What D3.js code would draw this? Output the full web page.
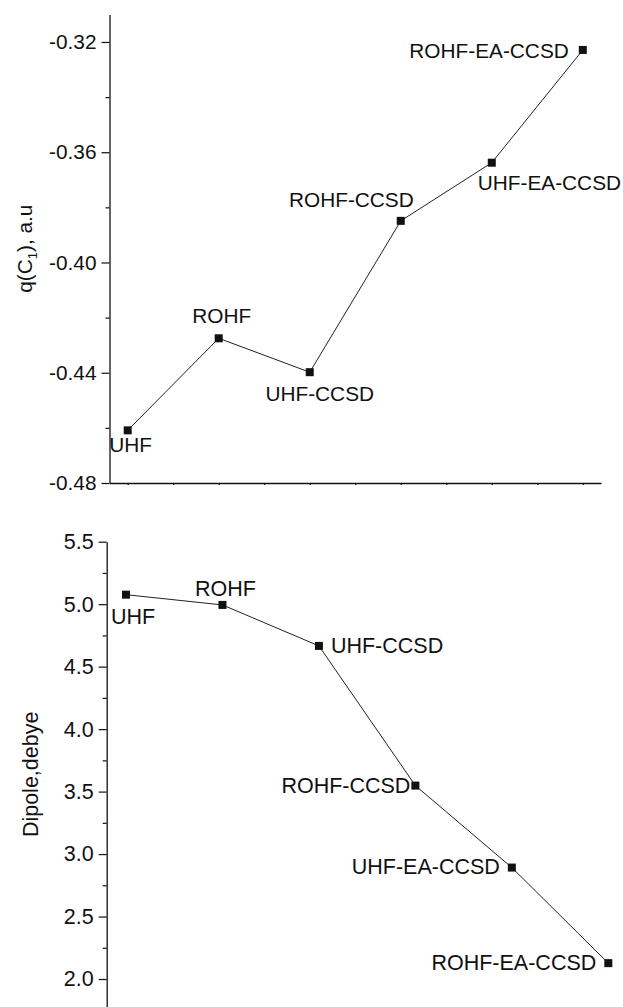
<!DOCTYPE html>
<html>
<head>
<meta charset="utf-8">
<script src="https://cdn.jsdelivr.net/npm/d3@7"></script>
<style>
  html, body { margin: 0; padding: 0; background: #fff; }
  svg { display: block; }
  text { font-family: "Liberation Sans", Arial, Helvetica, sans-serif; fill: #111; }
</style>
</head>
<body>
<svg id="chart" width="623" height="1007"></svg>
<script>
// ---- data ----
const methods = ["UHF", "ROHF", "UHF-CCSD", "ROHF-CCSD", "UHF-EA-CCSD", "ROHF-EA-CCSD"];
const methodIndex = [1, 2, 3, 4, 5, 6];
const chargeC1 = [-0.4609, -0.4275, -0.4398, -0.3849, -0.3638, -0.3229];
const dipole = [5.076, 4.994, 4.666, 3.548, 2.892, 2.127];
const chargeTicks = [-0.48, -0.44, -0.40, -0.36, -0.32];
const chargeMinorTicks = [-0.46, -0.42, -0.38, -0.34];
const dipoleTicks = [2.0, 2.5, 3.0, 3.5, 4.0, 4.5, 5.0, 5.5];
const dipoleMinorTicks = [2.25, 2.75, 3.25, 3.75, 4.25, 4.75, 5.25];
const xTicks = [1, 1.5, 2, 2.5, 3, 3.5, 4, 4.5, 5, 5.5, 6];

// ---- label placement (layout) ----
const topLabelPlace = [
  {anchor: "middle", dx: 3, dy: 22},
  {anchor: "middle", dx: 3, dy: -15},
  {anchor: "middle", dx: 10, dy: 29},
  {anchor: "end", dx: 13, dy: -14},
  {anchor: "start", dx: -14, dy: 27},
  {anchor: "end", dx: -14, dy: 8}
];
const botLabelPlace = [
  {anchor: "middle", dx: 7, dy: 29},
  {anchor: "middle", dx: 3, dy: -9},
  {anchor: "start", dx: 12, dy: 7},
  {anchor: "end", dx: -5, dy: 7},
  {anchor: "end", dx: -12, dy: 6},
  {anchor: "end", dx: -12, dy: 7}
];

const svg = d3.select("#chart");
const fmt2 = v => d3.format(".2f")(v).replace("\u2212", "-");
const fmt1 = v => d3.format(".1f")(v).replace("\u2212", "-");
const markSize = 8;

function styleAxis(g, fs) {
  g.selectAll("path.domain").attr("stroke", "#111").attr("stroke-width", 1.3);
  g.selectAll(".tick line").attr("stroke", "#111").attr("stroke-width", 1.2);
  g.selectAll(".tick text")
    .attr("font-size", fs)
    .attr("font-family", "'Liberation Sans', Arial, sans-serif")
    .attr("fill", "#111");
}

function panel(opts) {
  const {x, y, values, yTicks, yMinor, yFormat, place, xAxis, title, titlePos, fs} = opts;
  const g = svg.append("g");
  const ax = x.range()[0];

  const gMinor = g.append("g").attr("transform", `translate(${ax},0)`)
    .call(d3.axisLeft(y).tickValues(yMinor).tickSize(4).tickSizeOuter(0).tickFormat(""));
  gMinor.select("path.domain").remove();
  styleAxis(gMinor, fs);

  const gy = g.append("g").attr("transform", `translate(${ax},0)`)
    .call(d3.axisLeft(y).tickValues(yTicks).tickSize(8).tickSizeOuter(0).tickPadding(5).tickFormat(yFormat));
  styleAxis(gy, fs);

  if (xAxis) {
    const gx = g.append("g").attr("transform", `translate(0,${y.range()[0]})`)
      .call(d3.axisBottom(x).tickValues(xTicks).tickSize(2).tickSizeOuter(0).tickFormat(""));
    styleAxis(gx, fs);
  }

  const pts = methodIndex.map((d, i) => ({xv: d, yv: values[i], name: methods[i], p: place[i]}));

  g.append("path")
    .datum(pts)
    .attr("fill", "none")
    .attr("stroke", "#222")
    .attr("stroke-width", 1)
    .attr("d", d3.line().x(d => x(d.xv)).y(d => y(d.yv)));

  g.selectAll("rect.mark").data(pts).enter().append("rect")
    .attr("class", "mark")
    .attr("x", d => x(d.xv) - markSize / 2)
    .attr("y", d => y(d.yv) - markSize / 2)
    .attr("width", markSize)
    .attr("height", markSize)
    .attr("fill", "#111");

  g.selectAll("text.lbl").data(pts).enter().append("text")
    .attr("class", "lbl")
    .attr("x", d => x(d.xv) + d.p.dx)
    .attr("y", d => y(d.yv) + d.p.dy)
    .attr("text-anchor", d => d.p.anchor)
    .attr("font-size", fs)
    .text(d => d.name);

  const t = g.append("text")
    .attr("transform", `translate(${titlePos[0]},${titlePos[1]}) rotate(-90)`)
    .attr("text-anchor", "middle")
    .attr("font-size", fs);
  title(t);
}

// ---- top panel ----
const xTop = d3.scaleLinear().domain([0.8, 6.2]).range([109.5, 601]);
const yTop = d3.scaleLinear().domain([-0.48, -0.31]).range([483, 14.4]);
panel({
  x: xTop, y: yTop, values: chargeC1, fs: 20.8,
  yTicks: chargeTicks, yMinor: chargeMinorTicks, yFormat: fmt2,
  place: topLabelPlace, xAxis: true,
  titlePos: [32, (yTop.range()[0] + yTop.range()[1]) / 2],
  title: t => {
    t.append("tspan").text("q(C");
    t.append("tspan").attr("font-size", 13).attr("dy", 5).text("1");
    t.append("tspan").attr("dy", -5).text("), a.u");
  }
});

// ---- bottom panel ----
const xBot = d3.scaleLinear().domain([0.8, 6.2]).range([106.7, 627.6]);
const yBot = d3.scaleLinear().domain([1.76, 5.5]).range([1009, 541.7]);
panel({
  x: xBot, y: yBot, values: dipole, fs: 21.5,
  yTicks: dipoleTicks, yMinor: dipoleMinorTicks, yFormat: fmt1,
  place: botLabelPlace, xAxis: false,
  titlePos: [38, (yBot(5.5) + 1007) / 2],
  title: t => { t.text("Dipole,debye"); }
});
</script>
</body>
</html>
